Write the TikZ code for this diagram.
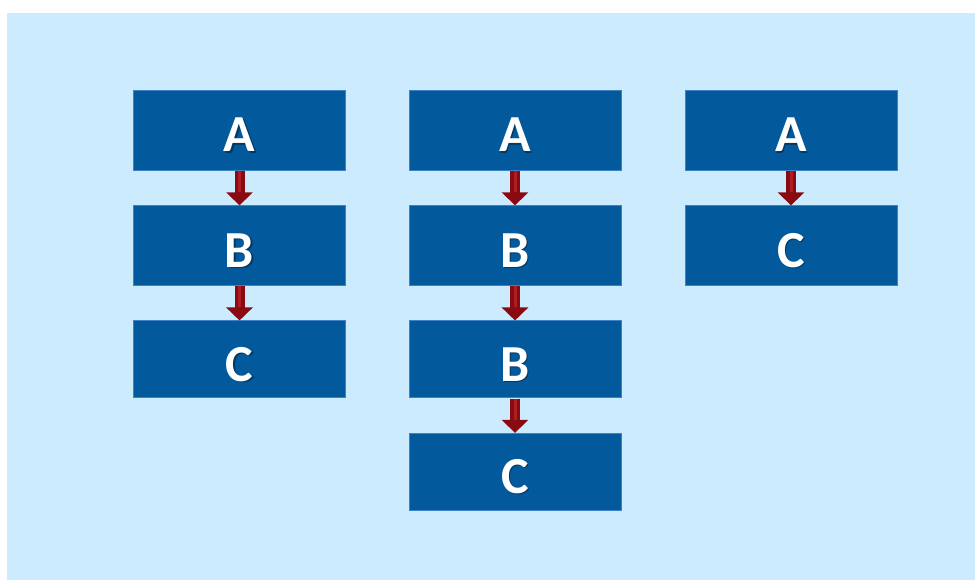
\documentclass[tikz,border=0pt]{standalone}
\usepackage{fontspec}
\setmainfont{Carlito}
\usetikzlibrary{arrows.meta}
\definecolor{bgblue}{HTML}{CCEBFF}
\definecolor{boxblue}{HTML}{02599C}
\definecolor{boxedge}{HTML}{3C82C4}
\definecolor{arrred}{HTML}{8A0A12}
\definecolor{arrlight}{HTML}{B01C24}
\tikzset{
  blk/.style={rectangle, fill=boxblue, draw=boxedge, line width=0.7pt,
    minimum width=212pt, inner sep=0pt},
  lbl/.style={text=white, font=\fontsize{52}{52}\selectfont\bfseries, inner sep=0pt, anchor=center},
  shadowlbl/.style={text=black, opacity=0.35, font=\fontsize{52}{52}\selectfont\bfseries, inner sep=0pt, anchor=center},
  redarrow/.style={draw=arrred, line width=10pt,
    -{Triangle[width=26pt,length=13pt]}},
  arrhl/.style={draw=arrlight, line width=3pt, shorten >=13pt}
}
\newcommand{\blocktext}[2]{%
  \node[shadowlbl] at ([xshift=1.3pt,yshift=-6.3pt]#1.center) {#2};
  \node[lbl] at ([yshift=-5pt]#1.center) {#2};}
\begin{document}
\begin{tikzpicture}[x=1pt,y=-1pt]
\useasboundingbox (0,0) rectangle (975,580);
\fill[white] (0,0) rectangle (975,580);
\fill[bgblue] (7,13.5) rectangle (975,580);
% column 1
\node[blk, minimum height=80pt] (a1) at (239.5,130) {};
\node[blk, minimum height=80pt] (b1) at (239.5,245.7) {};
\node[blk, minimum height=77pt] (c1) at (239.5,359.3) {};
% column 2
\node[blk, minimum height=80pt] (a2) at (515,130) {};
\node[blk, minimum height=80pt] (b2) at (515,245.7) {};
\node[blk, minimum height=77pt] (b3) at (515,359.3) {};
\node[blk, minimum height=77pt] (c2) at (515,471.7) {};
% column 3
\node[blk, minimum height=80pt] (a3) at (791,130) {};
\node[blk, minimum height=80pt] (c3) at (791,245.7) {};
% labels
\blocktext{a1}{A}
\blocktext{b1}{B}
\blocktext{c1}{C}
\blocktext{a2}{A}
\blocktext{b2}{B}
\blocktext{b3}{B}
\blocktext{c2}{C}
\blocktext{a3}{A}
\blocktext{c3}{C}
% arrows
\foreach \s/\t in {a1/b1, b1/c1, a2/b2, b2/b3, b3/c2, a3/c3}{
  \draw[redarrow] ([yshift=-0.4pt]\s.south) -- (\t.north);
  \draw[arrhl] ([yshift=-0.4pt]\s.south) -- (\t.north);
}
\end{tikzpicture}
\end{document}
